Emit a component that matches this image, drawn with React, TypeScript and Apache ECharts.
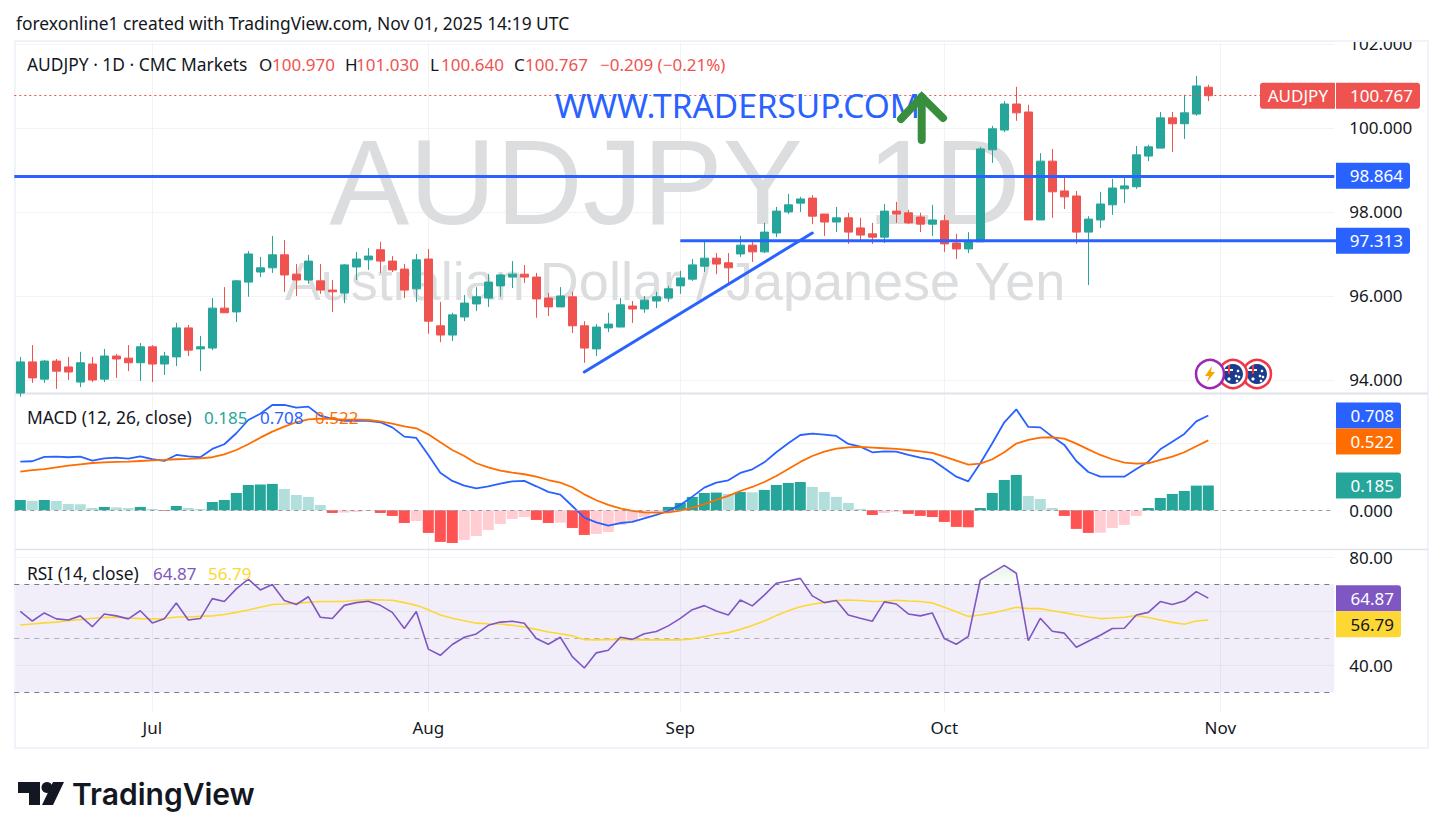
import React, { useEffect, useRef } from 'react'
import * as echarts from 'echarts'

const categories = [
  'Jun 16', 'Jun 17', 'Jun 18', 'Jun 19', 'Jun 20', 'Jun 23', 'Jun 24', 'Jun 25', 'Jun 26', 'Jun 27', 'Jun 30',
  'Jul 1', 'Jul 2', 'Jul 3', 'Jul 4', 'Jul 7', 'Jul 8', 'Jul 9', 'Jul 10', 'Jul 11', 'Jul 14', 'Jul 15', 'Jul 16', 'Jul 17', 'Jul 18',
  'Jul 21', 'Jul 22', 'Jul 23', 'Jul 24', 'Jul 25', 'Jul 28', 'Jul 29', 'Jul 30', 'Jul 31',
  'Aug 1', 'Aug 4', 'Aug 5', 'Aug 6', 'Aug 7', 'Aug 8', 'Aug 11', 'Aug 12', 'Aug 13', 'Aug 14', 'Aug 15', 'Aug 18', 'Aug 19', 'Aug 20', 'Aug 21', 'Aug 22',
  'Aug 25', 'Aug 26', 'Aug 27', 'Aug 28', 'Aug 29',
  'Sep 1', 'Sep 2', 'Sep 3', 'Sep 4', 'Sep 5', 'Sep 8', 'Sep 9', 'Sep 10', 'Sep 11', 'Sep 12', 'Sep 15', 'Sep 16', 'Sep 17', 'Sep 18', 'Sep 19',
  'Sep 22', 'Sep 23', 'Sep 24', 'Sep 25', 'Sep 26', 'Sep 29', 'Sep 30',
  'Oct 1', 'Oct 2', 'Oct 3', 'Oct 6', 'Oct 7', 'Oct 8', 'Oct 9', 'Oct 10', 'Oct 13', 'Oct 14', 'Oct 15', 'Oct 16', 'Oct 17', 'Oct 20', 'Oct 21', 'Oct 22', 'Oct 23', 'Oct 24',
  'Oct 27', 'Oct 28', 'Oct 29', 'Oct 30', 'Oct 31',
  'Nov 3', 'Nov 4', 'Nov 5', 'Nov 6', 'Nov 7', 'Nov 10', 'Nov 11', 'Nov 12', 'Nov 13', 'Nov 14',
]
const monthTickIndex = [11, 34, 55, 77, 100]
const monthLabels = ['Jul', 'Aug', 'Sep', 'Oct', 'Nov']

// open, close, low, high
const candles = [
  [93.69, 94.43, 93.6, 94.55], [94.43, 94.05, 93.93, 94.83], [94.02, 94.45, 93.93, 94.48], [94.45, 94.21, 93.79, 94.5], [94.31, 94.19, 94.0, 94.55],
  [93.95, 94.41, 93.83, 94.67], [94.38, 94.0, 93.95, 94.55], [94.02, 94.57, 93.95, 94.74], [94.57, 94.5, 94.05, 94.62], [94.52, 94.41, 94.21, 94.83],
  [94.41, 94.79, 93.98, 94.88], [94.79, 94.38, 93.95, 94.83], [94.38, 94.57, 94.12, 94.67], [94.55, 95.24, 94.33, 95.36], [95.24, 94.71, 94.57, 95.31],
  [94.74, 94.79, 94.21, 95.05], [94.76, 95.71, 94.71, 95.95], [95.71, 95.6, 95.6, 96.21], [95.62, 96.36, 95.38, 96.38], [96.33, 97.0, 95.98, 97.07],
  [96.57, 96.67, 96.45, 96.93], [96.67, 96.98, 96.55, 97.43], [96.98, 96.5, 96.1, 97.33], [96.52, 96.38, 96.0, 96.76], [96.38, 96.83, 96.29, 96.98],
  [96.36, 96.14, 96.05, 96.76], [96.14, 96.1, 95.62, 96.38], [96.07, 96.74, 95.83, 96.76], [96.69, 96.88, 96.38, 97.05], [96.86, 96.95, 96.62, 97.14],
  [97.1, 96.83, 96.55, 97.29], [96.83, 96.62, 96.57, 96.95], [96.64, 96.14, 95.95, 96.76], [96.17, 96.86, 95.86, 97.0], [96.88, 95.4, 95.1, 97.12],
  [95.29, 95.07, 94.9, 95.86], [95.07, 95.55, 94.93, 95.6], [95.5, 95.83, 95.4, 96.02], [95.81, 95.98, 95.64, 96.21], [95.95, 96.33, 95.74, 96.52],
  [96.24, 96.5, 95.98, 96.52], [96.45, 96.52, 96.19, 96.83], [96.52, 96.45, 96.31, 96.74], [96.45, 95.93, 95.48, 96.55], [95.95, 95.74, 95.52, 96.07],
  [95.74, 96.0, 95.74, 96.21], [95.98, 95.29, 95.12, 96.1], [95.29, 94.76, 94.41, 95.4], [94.74, 95.26, 94.57, 95.33], [95.24, 95.33, 95.14, 95.6],
  [95.26, 95.79, 95.26, 95.95], [95.76, 95.69, 95.36, 95.88], [95.69, 95.9, 95.6, 96.0], [95.88, 95.98, 95.71, 96.1], [95.95, 96.17, 95.86, 96.24],
  [96.24, 96.43, 96.05, 96.6], [96.4, 96.74, 96.36, 96.88], [96.71, 96.9, 96.57, 97.31], [96.9, 96.76, 96.52, 97.02], [96.79, 96.67, 96.31, 97.02],
  [97.0, 97.21, 96.93, 97.43], [97.21, 97.05, 96.81, 97.33], [97.05, 97.52, 97.02, 97.74], [97.5, 98.02, 97.4, 98.12], [98.0, 98.17, 97.95, 98.43],
  [98.21, 98.31, 98.0, 98.36], [98.33, 97.9, 97.71, 98.4], [97.95, 97.76, 97.43, 97.95], [97.76, 97.86, 97.52, 98.12], [97.86, 97.52, 97.24, 97.98],
  [97.62, 97.45, 97.31, 97.86], [97.48, 97.4, 97.24, 97.74], [97.4, 98.02, 97.26, 98.19], [98.02, 97.95, 97.74, 98.24], [97.98, 97.74, 97.71, 98.05],
  [97.88, 97.71, 97.52, 97.98], [97.71, 97.81, 97.43, 98.17], [97.79, 97.24, 97.05, 97.93], [97.26, 97.12, 96.88, 97.48], [97.12, 97.31, 97.02, 97.52],
  [97.29, 99.5, 97.29, 99.55], [99.48, 99.98, 99.17, 100.05], [99.95, 100.57, 99.9, 100.64], [100.57, 100.36, 100.17, 100.98], [100.38, 97.81, 97.81, 100.55],
  [97.81, 99.21, 97.81, 99.4], [99.21, 98.48, 97.86, 99.5], [98.5, 98.36, 98.07, 98.83], [98.38, 97.52, 97.24, 98.5], [97.52, 97.83, 96.26, 97.9],
  [97.81, 98.19, 97.62, 98.48], [98.17, 98.57, 97.93, 98.79], [98.55, 98.62, 98.21, 98.88], [98.6, 99.36, 98.55, 99.57], [99.33, 99.55, 99.21, 99.6],
  [99.52, 100.24, 99.52, 100.38], [100.24, 100.1, 99.43, 100.38], [100.1, 100.36, 99.74, 100.79], [100.33, 101.0, 100.29, 101.24], [100.97, 100.767, 100.64, 101.03],
]

const macdLine = [
  0.363, 0.366, 0.398, 0.4, 0.396, 0.4, 0.371, 0.388, 0.393, 0.386, 0.403, 0.381, 0.368, 0.413, 0.403, 0.396, 0.458, 0.493, 0.575, 0.674,
  0.721, 0.786, 0.786, 0.766, 0.774, 0.706, 0.682, 0.667, 0.667, 0.667, 0.657, 0.619, 0.55, 0.54, 0.413, 0.281, 0.219, 0.184, 0.164, 0.179,
  0.199, 0.216, 0.219, 0.179, 0.137, 0.117, 0.032, -0.055, -0.09, -0.114, -0.095, -0.087, -0.06, -0.035, -0.005, 0.04, 0.102, 0.169, 0.206, 0.224,
  0.279, 0.306, 0.358, 0.433, 0.5, 0.562, 0.572, 0.565, 0.555, 0.495, 0.475, 0.433, 0.44, 0.438, 0.413, 0.393, 0.376, 0.313, 0.251, 0.216,
  0.351, 0.5, 0.657, 0.754, 0.622, 0.619, 0.55, 0.488, 0.368, 0.286, 0.251, 0.251, 0.251, 0.308, 0.363, 0.455, 0.512, 0.57, 0.664, 0.708,
]
const signalLine = [
  0.289, 0.299, 0.308, 0.321, 0.333, 0.343, 0.353, 0.358, 0.361, 0.363, 0.368, 0.373, 0.376, 0.381, 0.383, 0.388, 0.396, 0.418, 0.45, 0.493,
  0.542, 0.587, 0.624, 0.657, 0.679, 0.684, 0.682, 0.677, 0.677, 0.674, 0.664, 0.647, 0.627, 0.612, 0.567, 0.507, 0.45, 0.405, 0.351, 0.321,
  0.296, 0.281, 0.269, 0.251, 0.226, 0.206, 0.172, 0.119, 0.075, 0.04, 0.015, -0.005, -0.015, -0.017, -0.015, -0.002, 0.02, 0.045, 0.077, 0.107,
  0.144, 0.174, 0.211, 0.256, 0.308, 0.361, 0.405, 0.438, 0.46, 0.47, 0.473, 0.468, 0.463, 0.458, 0.45, 0.44, 0.428, 0.4, 0.371, 0.341,
  0.348, 0.381, 0.433, 0.498, 0.525, 0.542, 0.545, 0.535, 0.498, 0.455, 0.413, 0.381, 0.356, 0.348, 0.351, 0.376, 0.4, 0.433, 0.478, 0.522,
]
const macdHist = [
  0.077, 0.07, 0.077, 0.07, 0.047, 0.045, 0.017, 0.025, 0.022, 0.017, 0.025, 0.01, -0.005, 0.032, 0.017, 0.01, 0.062, 0.077, 0.129, 0.189,
  0.192, 0.197, 0.159, 0.114, 0.1, 0.04, -0.02, -0.017, -0.012, -0.005, -0.02, -0.042, -0.095, -0.08, -0.169, -0.236, -0.244, -0.221, -0.192, -0.147,
  -0.102, -0.065, -0.05, -0.072, -0.095, -0.092, -0.132, -0.184, -0.177, -0.162, -0.109, -0.08, -0.05, -0.02, 0.025, 0.055, 0.1, 0.129, 0.132, 0.122,
  0.137, 0.134, 0.152, 0.189, 0.204, 0.211, 0.174, 0.137, 0.1, 0.055, 0.01, -0.035, -0.02, -0.012, -0.027, -0.042, -0.05, -0.087, -0.124, -0.127,
  0.017, 0.129, 0.226, 0.264, 0.107, 0.085, 0.017, -0.042, -0.139, -0.169, -0.167, -0.132, -0.109, -0.042, 0.017, 0.092, 0.122, 0.144, 0.184, 0.185,
]
const rsiLine = [
  60.0, 56.4, 59.4, 57.2, 56.8, 58.3, 54.3, 59.0, 58.3, 57.2, 60.2, 55.7, 57.2, 63.1, 56.8, 57.3, 64.7, 63.6, 68.3, 71.9,
  67.9, 69.9, 64.0, 62.5, 65.4, 57.8, 57.3, 62.2, 63.2, 63.7, 62.2, 59.6, 53.6, 59.9, 46.0, 43.7, 47.7, 50.4, 51.6, 54.8,
  56.0, 56.3, 55.6, 49.9, 47.8, 50.4, 43.2, 39.0, 44.6, 45.6, 50.4, 49.6, 51.7, 52.5, 54.6, 57.4, 60.6, 62.1, 60.1, 58.6,
  64.2, 62.0, 66.0, 70.4, 71.2, 72.2, 65.7, 63.2, 64.0, 58.6, 57.4, 56.3, 63.5, 62.7, 59.0, 58.3, 59.4, 49.9, 47.8, 50.7,
  71.6, 74.3, 77.0, 74.1, 49.1, 57.4, 52.6, 51.9, 46.7, 48.9, 51.1, 53.6, 53.7, 58.6, 59.6, 63.6, 62.5, 63.8, 67.3, 64.87,
]
const rsiMa = [
  54.9, 55.3, 55.7, 56.0, 56.5, 56.9, 57.4, 57.7, 57.8, 57.5, 57.3, 57.2, 57.3, 57.9, 57.9, 58.1, 58.3, 58.8, 59.6, 60.5,
  61.5, 62.5, 62.7, 63.0, 63.3, 63.6, 63.6, 63.6, 64.1, 64.3, 64.2, 64.1, 63.2, 62.2, 60.6, 58.6, 57.4, 56.5, 55.6, 55.4,
  55.3, 54.8, 54.2, 53.3, 52.3, 51.7, 50.9, 49.5, 49.4, 49.5, 49.6, 49.5, 49.4, 49.4, 49.4, 49.4, 49.8, 50.6, 51.5, 52.1,
  53.3, 54.7, 56.4, 58.4, 60.2, 61.7, 62.6, 63.3, 64.0, 64.2, 64.0, 63.6, 63.7, 64.1, 63.8, 63.6, 63.1, 61.5, 59.8, 58.1,
  58.6, 59.4, 60.4, 61.5, 61.0, 61.0, 60.2, 59.5, 58.6, 57.9, 57.3, 57.5, 57.8, 58.4, 57.7, 56.8, 55.9, 55.2, 56.4, 56.79,
]

const priceTicks = [94, 96, 98, 100, 102]
const lastPrice = 100.767
const upperLevel = 98.864
const lowerLevel = 97.313
const lowerLevelFrom = 55
const trendFrom = [47, 94.19]
const trendTo = [66, 97.5]

const UP = '#26a69a'
const DOWN = '#ef5350'
const BLUE = '#2962ff'
const ORANGE = '#ff6d00'
const PURPLE = '#7e57c2'
const YELLOW = '#fdd835'
const INK = '#131722'
const GRID = '#f2f3f6'
const FONT = '"Noto Sans", sans-serif'

const histColor = (v: number, i: number) => {
  const prev = i > 0 ? macdHist[i - 1] : -1
  if (v >= 0) return v > prev ? '#26a69a' : '#b2dfdb'
  return v < prev ? '#ff5252' : '#ffcdd2'
}

const txt = (x: number, y: number, text: string, fill: string, size = 17) => ({
  type: 'text',
  x,
  y,
  z: 50,
  silent: true,
  style: { text, fill, font: `${size}px ${FONT}`, textVerticalAlign: 'middle' },
})

const App = () => {
  const chart: any = useRef()

  useEffect(() => {
    document.body.style.margin = '0'
    const myChart = echarts.init(chart.current, undefined, { renderer: 'svg' })

    const xAxisBase = {
      type: 'category',
      data: categories,
      boundaryGap: true,
      axisLine: { show: false },
      axisTick: { show: false },
      splitLine: {
        show: true,
        alignWithLabel: true,
        interval: (i: number) => monthTickIndex.includes(i),
        lineStyle: { color: GRID, width: 1 },
      },
    }
    const yAxisBase = {
      type: 'value',
      position: 'right',
      scale: true,
      axisLine: { show: false },
      axisTick: { show: false },
      splitLine: { show: true, lineStyle: { color: GRID, width: 1 } },
    }
    const labelStyle = { color: INK, fontSize: 17, fontFamily: FONT, margin: 15, align: 'left' }

    myChart.setOption({
      animation: false,
      grid: [
        { left: 14.3, width: 1320, top: 41, height: 352 },
        { left: 14.3, width: 1320, top: 394, height: 155 },
        { left: 14.3, width: 1320, top: 550, height: 161 },
      ],
      xAxis: [
        { ...xAxisBase, gridIndex: 0, axisLabel: { show: false } },
        { ...xAxisBase, gridIndex: 1, axisLabel: { show: false } },
        {
          ...xAxisBase,
          gridIndex: 2,
          axisLabel: {
            show: true,
            interval: (i: number) => monthTickIndex.includes(i),
            formatter: (_: string, i: number) => monthLabels[monthTickIndex.indexOf(i)],
            color: INK,
            fontSize: 17,
            fontFamily: FONT,
            margin: 8,
          },
        },
      ],
      yAxis: [
        {
          ...yAxisBase,
          gridIndex: 0,
          min: 93.69,
          max: 102.07,
          axisTick: { show: false, customValues: priceTicks },
          axisLabel: { ...labelStyle, customValues: priceTicks, formatter: (v: number) => v.toFixed(3) },
        },
        {
          ...yAxisBase,
          gridIndex: 1,
          min: -0.289,
          max: 0.868,
          axisTick: { show: false, customValues: [0.5] },
          axisLabel: { ...labelStyle, customValues: [0], formatter: (v: number) => v.toFixed(3) },
        },
        {
          ...yAxisBase,
          gridIndex: 2,
          min: 23.07,
          max: 82.7,
          axisTick: { show: false, customValues: [40, 60, 80] },
          axisLabel: { ...labelStyle, customValues: [40, 80], formatter: (v: number) => v.toFixed(2) },
        },
      ],
      series: [
        {
          type: 'candlestick',
          name: 'AUDJPY',
          xAxisIndex: 0,
          yAxisIndex: 0,
          data: candles,
          barWidth: 8,
          itemStyle: { color: UP, color0: DOWN, borderColor: UP, borderColor0: DOWN, borderWidth: 1 },
          markLine: {
            silent: true,
            symbol: 'none',
            label: { show: false },
            animation: false,
            data: [
              { yAxis: lastPrice, lineStyle: { color: DOWN, width: 1, type: [2, 3] } },
              { yAxis: upperLevel, lineStyle: { color: BLUE, width: 3, type: 'solid' } },
              [
                { xAxis: trendFrom[0], yAxis: trendFrom[1], lineStyle: { color: BLUE, width: 3, type: 'solid', cap: 'round' } },
                { xAxis: trendTo[0], yAxis: trendTo[1] },
              ],
            ],
          },
        },
        {
          type: 'bar',
          name: 'Histogram',
          xAxisIndex: 1,
          yAxisIndex: 1,
          barWidth: 11,
          data: macdHist.map((v, i) => ({ value: v, itemStyle: { color: histColor(v, i) } })),
          markLine: {
            silent: true,
            symbol: 'none',
            label: { show: false },
            animation: false,
            z: 10,
            data: [{ yAxis: 0, lineStyle: { color: '#9598a1', width: 1, type: [4, 4] } }],
          },
        },
        {
          type: 'line',
          name: 'MACD',
          xAxisIndex: 1,
          yAxisIndex: 1,
          data: macdLine,
          showSymbol: false,
          z: 5,
          lineStyle: { color: BLUE, width: 1.8 },
        },
        {
          type: 'line',
          name: 'Signal',
          xAxisIndex: 1,
          yAxisIndex: 1,
          data: signalLine,
          showSymbol: false,
          z: 6,
          lineStyle: { color: ORANGE, width: 1.8 },
        },
        {
          type: 'line',
          name: 'RSI',
          xAxisIndex: 2,
          yAxisIndex: 2,
          data: rsiLine,
          showSymbol: false,
          z: 6,
          lineStyle: { color: PURPLE, width: 1.6 },
          markArea: {
            silent: true,
            animation: false,
            itemStyle: { color: 'rgba(126,87,194,0.1)' },
            data: [[{ yAxis: 30 }, { yAxis: 70 }]],
          },
          markLine: {
            silent: true,
            symbol: 'none',
            label: { show: false },
            animation: false,
            data: [
              { yAxis: 70, lineStyle: { color: '#787b86', width: 1, type: [5, 5] } },
              { yAxis: 50, lineStyle: { color: 'rgba(120,123,134,0.55)', width: 1, type: [5, 5] } },
              { yAxis: 30, lineStyle: { color: '#787b86', width: 1, type: [5, 5] } },
            ],
          },
        },
        {
          type: 'line',
          name: 'RSI MA',
          xAxisIndex: 2,
          yAxisIndex: 2,
          data: rsiMa,
          showSymbol: false,
          z: 5,
          lineStyle: { color: YELLOW, width: 1.6 },
        },
        {
          type: 'line',
          name: 'Overbought',
          xAxisIndex: 2,
          yAxisIndex: 2,
          data: rsiLine.map((v, i) => (i >= 80 && i <= 83 ? v : null)),
          showSymbol: false,
          z: 3,
          lineStyle: { width: 0 },
          areaStyle: {
            origin: 70,
            color: new echarts.graphic.LinearGradient(0, 0, 0, 1, [
              { offset: 0, color: 'rgba(76,175,80,0.2)' },
              { offset: 1, color: 'rgba(76,175,80,0.02)' },
            ]),
          },
        },
      ],
    })

    const py = (axis: number, v: number) => myChart.convertToPixel({ yAxisIndex: axis }, v) as number
    const lowerFromX = myChart.convertToPixel({ xAxisIndex: 0 }, lowerLevelFrom) as number

    const tag = (x: number, w: number, cy: number, label: string, bg: string, fill = '#fff', r: any = 3) => [
      { type: 'rect', z: 40, silent: true, shape: { x, y: cy - 13, width: w, height: 26, r }, style: { fill: bg } },
      {
        type: 'text', x: x + w - 7, y: cy, z: 50, silent: true,
        style: { text: label, fill, font: `17px ${FONT}`, textAlign: 'right', textVerticalAlign: 'middle' },
      },
    ]

    const flagBadge = (cx: number, cy: number, z: number) => [
      { type: 'circle', z, silent: true, shape: { cx, cy, r: 14 }, style: { fill: '#fff', stroke: '#f23645', lineWidth: 2.5 } },
      { type: 'circle', z, silent: true, shape: { cx, cy, r: 10 }, style: { fill: '#1a3c8c' } },
      { type: 'line', z, silent: true, shape: { x1: cx - 9, y1: cy - 4, x2: cx, y2: cy - 4 }, style: { stroke: '#fff', lineWidth: 2 } },
      { type: 'line', z, silent: true, shape: { x1: cx - 4, y1: cy - 9, x2: cx - 4, y2: cy }, style: { stroke: '#f23645', lineWidth: 2 } },
      { type: 'circle', z, silent: true, shape: { cx: cx - 4, cy: cy + 5, r: 1.6 }, style: { fill: '#fff' } },
      { type: 'circle', z, silent: true, shape: { cx: cx + 5, cy: cy - 3, r: 1.3 }, style: { fill: '#fff' } },
      { type: 'circle', z, silent: true, shape: { cx: cx + 3, cy: cy + 2, r: 1.3 }, style: { fill: '#fff' } },
      { type: 'circle', z, silent: true, shape: { cx: cx + 6, cy: cy + 3, r: 1.3 }, style: { fill: '#fff' } },
      { type: 'circle', z, silent: true, shape: { cx: cx + 4, cy: cy + 7, r: 1.3 }, style: { fill: '#fff' } },
    ]

    const macdY = py(1, 0.708)
    const signalY = Math.max(py(1, 0.522), macdY + 26)
    const rsiY = py(2, 64.87)
    const rsiMaY = Math.max(py(2, 56.79), rsiY + 26)

    myChart.setOption({
      graphic: [
        // frame
        { type: 'rect', z: 1, silent: true, shape: { x: 15, y: 41, width: 1413, height: 707 }, style: { fill: 'none', stroke: '#f0f3fa', lineWidth: 2 } },
        { type: 'line', z: 2, silent: true, shape: { x1: 15, y1: 393.5, x2: 1428, y2: 393.5 }, style: { stroke: '#e0e3eb', lineWidth: 2 } },
        { type: 'line', z: 2, silent: true, shape: { x1: 15, y1: 549.5, x2: 1428, y2: 549.5 }, style: { stroke: '#e0e3eb', lineWidth: 1.5 } },
        { type: 'rect', z: 45, silent: true, shape: { x: 1336, y: 30, width: 90, height: 10 }, style: { fill: '#fff' } },

        // support line from Sep 1 to the price scale
        {
          type: 'line', z: 30, silent: true,
          shape: { x1: lowerFromX, y1: py(0, lowerLevel), x2: 1336, y2: py(0, lowerLevel) },
          style: { stroke: BLUE, lineWidth: 3 },
        },

        // watermark
        {
          type: 'text', x: 675, y: 182, z: 1, silent: true,
          style: { text: 'AUDJPY  1D', fill: '#dcdddf', font: '120px "Liberation Sans", sans-serif', textAlign: 'center', textVerticalAlign: 'middle' },
        },
        {
          type: 'text', x: 675, y: 281, z: 1, silent: true,
          style: { text: 'Australian Dollar / Japanese Yen', fill: '#dcdddf', font: '54px "Liberation Sans", sans-serif', textAlign: 'center', textVerticalAlign: 'middle' },
        },

        // header
        txt(16, 23, 'forexonline1 created with TradingView.com, Nov 01, 2025 14:19 UTC', INK, 17.4),
        txt(27, 64, 'AUDJPY · 1D · CMC Markets', INK, 17.4),
        txt(259, 64, 'O', INK), txt(272, 64, '100.970', DOWN),
        txt(345, 64, 'H', INK), txt(356, 64, '101.030', DOWN),
        txt(430, 64, 'L', INK), txt(441, 64, '100.640', DOWN),
        txt(514, 64, 'C', INK), txt(525, 64, '100.767', DOWN),
        txt(600, 64, '−0.209 (−0.21%)', DOWN),

        // annotations
        {
          type: 'text', x: 555, y: 105, z: 30, silent: true,
          style: { text: 'WWW.TRADERSUP.COM', fill: BLUE, font: `33.4px ${FONT}`, textVerticalAlign: 'middle' },
        },
        { type: 'line', z: 31, silent: true, shape: { x1: 921.7, y1: 97, x2: 921.7, y2: 140 }, style: { stroke: '#388e3c', lineWidth: 8, lineCap: 'round' } },
        { type: 'polyline', z: 31, silent: true, shape: { points: [[901, 119], [921.7, 97], [943, 118]] }, style: { stroke: '#388e3c', lineWidth: 8, fill: 'none', lineCap: 'round' } },

        // event badges
        ...flagBadge(1257, 374, 32),
        ...flagBadge(1233, 374, 33),
        { type: 'circle', z: 34, silent: true, shape: { cx: 1210, cy: 374, r: 14 }, style: { fill: '#fff', stroke: '#9c27b0', lineWidth: 2.5 } },
        { type: 'polygon', z: 35, silent: true, shape: { points: [[1212, 366], [1205, 376], [1209, 376], [1207, 382], [1215, 372], [1211, 372]] }, style: { fill: '#f7a600' } },

        // indicator legends
        txt(27, 417, 'MACD (12, 26, close)', INK, 17.4),
        txt(204, 417, '0.185', UP), txt(260, 417, '0.708', BLUE), txt(315, 417, '0.522', ORANGE),
        txt(27, 573, 'RSI (14, close)', INK, 17.4),
        txt(153, 573, '64.87', PURPLE), txt(208, 573, '56.79', YELLOW),

        // price tags
        ...tag(1260, 75, py(0, lastPrice), 'AUDJPY', DOWN, '#fff', [3, 0, 0, 3]),
        ...tag(1336, 84, py(0, lastPrice), '100.767', DOWN, '#fff', [0, 3, 3, 0]),
        ...tag(1336, 74, py(0, upperLevel), '98.864', BLUE, '#fff', [0, 3, 3, 0]),
        ...tag(1336, 74, py(0, lowerLevel), '97.313', BLUE, '#fff', [0, 3, 3, 0]),
        ...tag(1336, 65, macdY, '0.708', BLUE, '#fff', [0, 3, 0, 0]),
        ...tag(1336, 65, signalY, '0.522', ORANGE, '#fff', [0, 0, 3, 0]),
        ...tag(1336, 65, py(1, 0.185), '0.185', UP, '#fff', [0, 3, 3, 0]),
        ...tag(1336, 65, rsiY, '64.87', PURPLE, '#fff', [0, 3, 0, 0]),
        ...tag(1336, 65, rsiMaY, '56.79', YELLOW, INK, [0, 0, 3, 0]),

        // logo
        { type: 'polygon', z: 20, silent: true, shape: { points: [[18, 782], [40, 782], [40, 805], [29, 805], [29, 793], [18, 793]] }, style: { fill: INK } },
        { type: 'circle', z: 20, silent: true, shape: { cx: 47, cy: 787.5, r: 5.5 }, style: { fill: INK } },
        { type: 'polygon', z: 20, silent: true, shape: { points: [[53, 782], [64, 782], [53, 805], [42, 805]] }, style: { fill: INK } },
        {
          type: 'text', x: 72, y: 794, z: 20, silent: true,
          style: { text: 'TradingView', fill: INK, font: `600 30px Inter, sans-serif`, textVerticalAlign: 'middle' },
        },
      ],
    })

    return () => {
      myChart.dispose()
    }
  }, [])

  return <div ref={chart} style={{ width: 1443, height: 838 }} />
}

export default App
